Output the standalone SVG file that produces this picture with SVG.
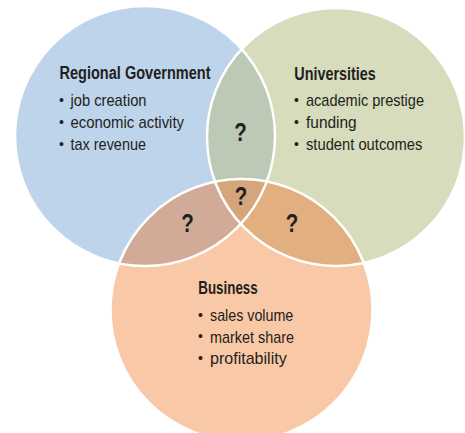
<svg xmlns="http://www.w3.org/2000/svg" width="465" height="433" viewBox="0 0 465 433">
  <style>
    .ring { fill: none; stroke: #ffffff; stroke-width: 2.5; }
    .head { font-family: "Liberation Sans", Arial, sans-serif; font-weight: bold; font-size: 18px; fill: #231f20; }
    .item { font-family: "Liberation Sans", Arial, sans-serif; font-size: 17px; fill: #231f20; }
    .dot { font-family: "Liberation Sans", Arial, sans-serif; font-size: 14px; fill: #231f20; text-anchor: middle; }
    .q { font-family: "Liberation Sans", Arial, sans-serif; font-weight: bold; font-size: 26px; fill: #231f20; text-anchor: middle; }
  </style>
  <defs>
    <circle id="cGov" cx="145" cy="136" r="130"/>
    <circle id="cUni" cx="336" cy="137" r="129"/>
    <circle id="cBiz" cx="241.5" cy="310" r="131"/>
    <clipPath id="clipGov"><use href="#cGov"/></clipPath>
    <clipPath id="clipUni"><use href="#cUni"/></clipPath>
  </defs>

  <!-- base circles -->
  <g id="government">
    <use href="#cGov" fill="#bed4eb"/>
  </g>
  <g id="universities">
    <use href="#cUni" fill="#d6dcbc"/>
  </g>
  <g id="business">
    <use href="#cBiz" fill="#f9c8a6"/>
  </g>

  <!-- overlap regions -->
  <g id="overlap-gov-uni">
    <use href="#cUni" fill="#bcc9b4" clip-path="url(#clipGov)"/>
  </g>
  <g id="overlap-gov-biz">
    <use href="#cBiz" fill="#d2ab98" clip-path="url(#clipGov)"/>
  </g>
  <g id="overlap-uni-biz">
    <use href="#cBiz" fill="#e2b080" clip-path="url(#clipUni)"/>
  </g>
  <g id="overlap-all" clip-path="url(#clipUni)">
    <use href="#cBiz" fill="#d5a57b" clip-path="url(#clipGov)"/>
  </g>

  <!-- white outlines -->
  <g id="outlines">
    <use href="#cGov" class="ring"/>
    <use href="#cUni" class="ring"/>
    <use href="#cBiz" class="ring"/>
  </g>

  <!-- labels -->
  <g id="label-government">
    <text class="head" x="59.5" y="79" textLength="151" lengthAdjust="spacingAndGlyphs">Regional Government</text>
    <text class="dot" x="61.5" y="104.5">•</text>
    <text class="item" x="70.5" y="106" textLength="76" lengthAdjust="spacingAndGlyphs">job creation</text>
    <text class="dot" x="61.5" y="126.5">•</text>
    <text class="item" x="70.5" y="128" textLength="113.5" lengthAdjust="spacingAndGlyphs">economic activity</text>
    <text class="dot" x="61.5" y="148.5">•</text>
    <text class="item" x="70.5" y="150" textLength="75.5" lengthAdjust="spacingAndGlyphs">tax revenue</text>
  </g>
  <g id="label-universities">
    <text class="head" x="294.3" y="79.5" textLength="81.4" lengthAdjust="spacingAndGlyphs">Universities</text>
    <text class="dot" x="296.5" y="104.5">•</text>
    <text class="item" x="306" y="106" textLength="118" lengthAdjust="spacingAndGlyphs">academic prestige</text>
    <text class="dot" x="296.5" y="126.5">•</text>
    <text class="item" x="306" y="128" textLength="50.7" lengthAdjust="spacingAndGlyphs">funding</text>
    <text class="dot" x="296.5" y="148.5">•</text>
    <text class="item" x="306" y="150" textLength="116.3" lengthAdjust="spacingAndGlyphs">student outcomes</text>
  </g>
  <g id="label-business">
    <text class="head" x="198.3" y="293.5" textLength="59.4" lengthAdjust="spacingAndGlyphs">Business</text>
    <text class="dot" x="200.5" y="319.5">•</text>
    <text class="item" x="210" y="321" textLength="83.3" lengthAdjust="spacingAndGlyphs">sales volume</text>
    <text class="dot" x="200.5" y="341">•</text>
    <text class="item" x="210" y="342.5" textLength="84" lengthAdjust="spacingAndGlyphs">market share</text>
    <text class="dot" x="200.5" y="362.5">•</text>
    <text class="item" x="210" y="364" textLength="76.7" lengthAdjust="spacingAndGlyphs">profitability</text>
  </g>

  <!-- unknown overlaps -->
  <g id="marks">
    <text class="q" x="240.5" y="141" textLength="12.5" lengthAdjust="spacingAndGlyphs">?</text>
    <text class="q" x="241" y="205" textLength="12.5" lengthAdjust="spacingAndGlyphs">?</text>
    <text class="q" x="187.5" y="232" textLength="12.5" lengthAdjust="spacingAndGlyphs">?</text>
    <text class="q" x="292" y="232" textLength="12.5" lengthAdjust="spacingAndGlyphs">?</text>
  </g>
</svg>
